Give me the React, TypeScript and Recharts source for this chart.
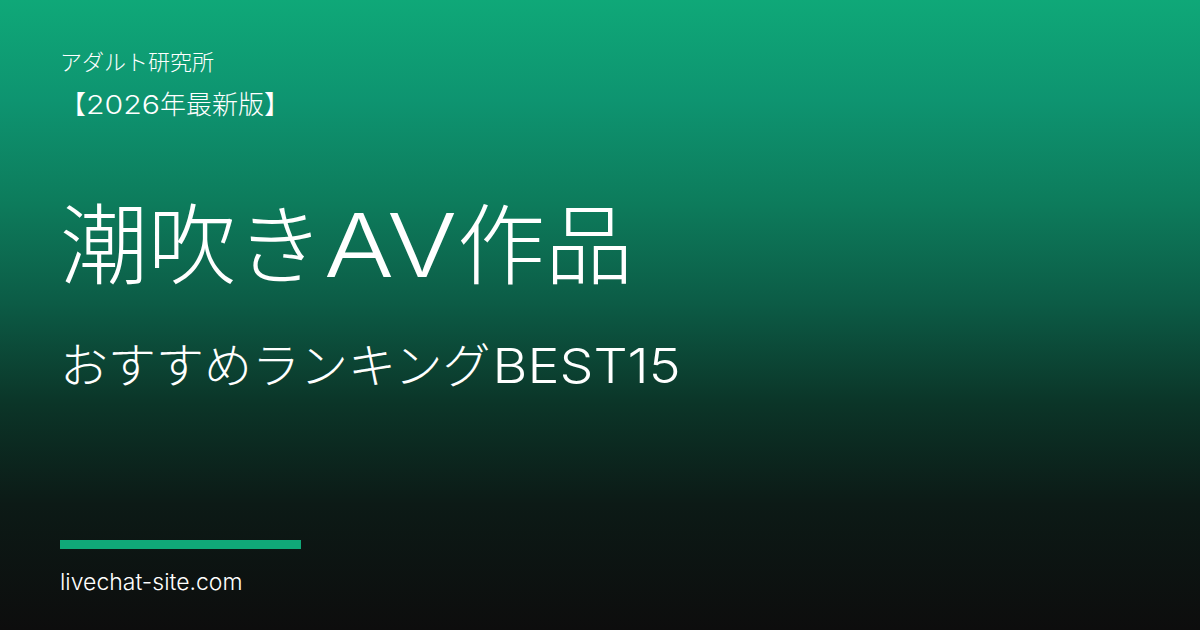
import React from 'react';
import { ComposedChart, Customized, Rectangle } from 'recharts';

const brandLines = ['アダルト研究所'];
const editionParts = ['【', '2026', '年最新版】'];
const titleParts = ['潮吹き', 'AV', '作品'];
const subtitleParts = ['おすすめランキング', 'BEST15'];
const footerLines = ['livechat-site.com'];

const W = 1200;
const H = 630;
const FONT = '"Inter", "Noto Sans CJK JP", sans-serif';

const Card = () => (
  <g>
    <defs>
      <linearGradient id="bg" x1="0" y1="0" x2="0" y2="1">
        <stop offset="0%" stopColor="#0fa878" />
        <stop offset="16%" stopColor="#0e9470" />
        <stop offset="32%" stopColor="#0d7c5c" />
        <stop offset="48%" stopColor="#0c5c46" />
        <stop offset="64%" stopColor="#0b3528" />
        <stop offset="80%" stopColor="#0c1a16" />
        <stop offset="100%" stopColor="#0d0d0d" />
      </linearGradient>
    </defs>
    <Rectangle x={0} y={0} width={W} height={H} fill="url(#bg)" />
    <text x={60} y={70} fill="#ffffff" fontSize={22} fontFamily={FONT} fontWeight={300}>
      {brandLines[0]}
    </text>
    <text x={60} y={114} fill="#ffffff" fontSize={26} fontFamily={FONT} fontWeight={300}>
      <tspan>{editionParts[0]}</tspan>
      <tspan textLength={74} lengthAdjust="spacingAndGlyphs">{editionParts[1]}</tspan>
      <tspan>{editionParts[2]}</tspan>
    </text>
    <text x={60} y={277} fill="#ffffff" fontSize={88} fontFamily={FONT} fontWeight={300}>
      <tspan>{titleParts[0]}</tspan>
      <tspan textLength={133} lengthAdjust="spacingAndGlyphs">{titleParts[1]}</tspan>
      <tspan>{titleParts[2]}</tspan>
    </text>
    <text x={60} y={383} fill="#ffffff" fontSize={48} fontFamily={FONT} fontWeight={300}>
      <tspan>{subtitleParts[0]}</tspan>
      <tspan dx={2} textLength={188} lengthAdjust="spacingAndGlyphs">{subtitleParts[1]}</tspan>
    </text>
    <Rectangle x={60} y={540} width={241} height={9} fill="#10a878" />
    <text x={60} y={590} fill="#ffffff" fontSize={23} fontFamily={FONT} fontWeight={300}>
      {footerLines[0]}
    </text>
  </g>
);

export default function App() {
  return (
    <div style={{ position: 'absolute', left: 0, top: 0, width: W, height: H }}>
      <ComposedChart width={W} height={H} data={[{ v: 0 }]} margin={{ top: 0, right: 0, bottom: 0, left: 0 }}>
        <Customized component={Card} />
      </ComposedChart>
    </div>
  );
}
